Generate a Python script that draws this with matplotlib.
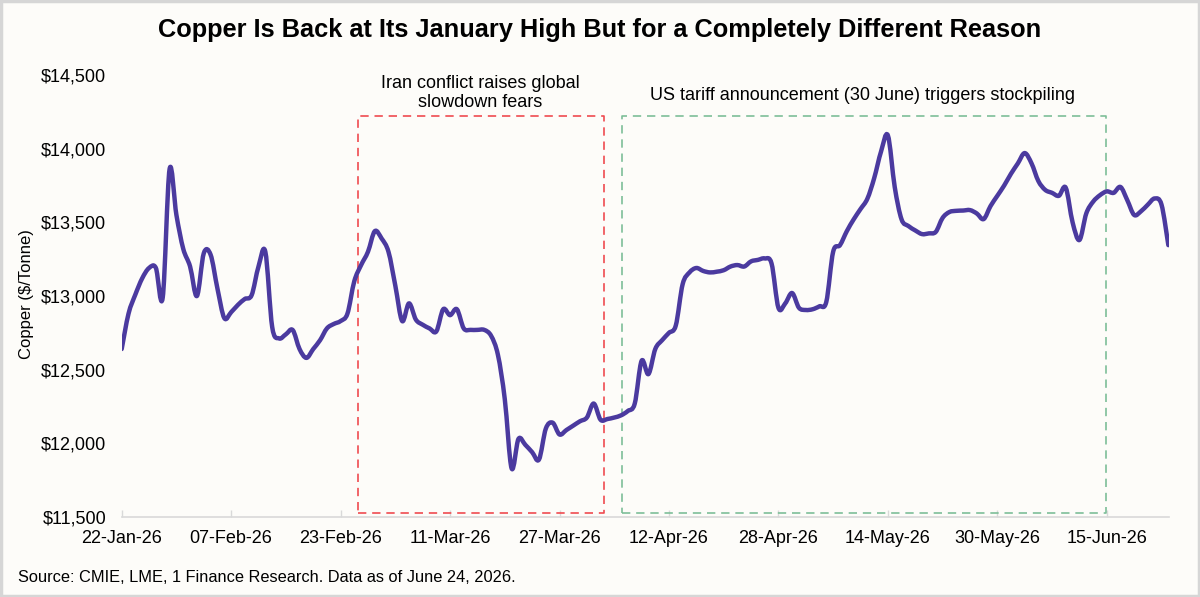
import matplotlib
matplotlib.use("Agg")
import matplotlib.pyplot as plt
import matplotlib.dates as mdates
from matplotlib.patches import Rectangle, PathPatch
from matplotlib.path import Path
import pandas as pd
import numpy as np

plt.rcParams['font.family'] = ['Liberation Sans', 'DejaVu Sans']

# ---------------- data ----------------
start = pd.Timestamp("2026-01-22")
day_offsets = list(range(0, 154))
prices = [
    12640, 12880, 13010, 13120, 13190, 13190, 12990, 13860, 13550, 13320,  # 0-9
    13200, 13000, 13290, 13280, 13050, 12850, 12890, 12940, 12980, 13006,  # 10-19
    13200, 13300, 12790, 12712, 12740, 12769, 12640, 12580, 12640, 12700,  # 20-29
    12780, 12810, 12830, 12880, 13100, 13210, 13300, 13440, 13390, 13300,  # 30-39
    13070, 12830, 12950, 12840, 12805, 12780, 12760, 12910, 12870, 12910,  # 40-49
    12780, 12770, 12770, 12770, 12730, 12600, 12300, 11830, 12030, 11990,  # 50-59
    11940, 11890, 12100, 12140, 12060, 12090, 12120, 12150, 12175, 12270,  # 60-69
    12160, 12165, 12175, 12190, 12220, 12270, 12560, 12470, 12640, 12700,  # 70-79
    12750, 12800, 13080, 13160, 13190, 13170, 13160, 13165, 13175, 13200,  # 80-89
    13210, 13200, 13235, 13245, 13255, 13220, 12920, 12950, 13020, 12920,  # 90-99
    12905, 12910, 12930, 12960, 13300, 13345, 13440, 13520, 13590, 13660,  # 100-109
    13800, 13980, 14090, 13740, 13520, 13475, 13445, 13420, 13425, 13435,  # 110-119
    13530, 13570, 13578, 13580, 13583, 13560, 13522, 13610, 13680, 13750,  # 120-129
    13830, 13900, 13970, 13900, 13780, 13720, 13700, 13680, 13735, 13500,  # 130-139
    13380, 13560, 13640, 13684, 13710, 13700, 13740, 13650, 13550, 13575,  # 140-149
    13620, 13662, 13620, 13345,                                            # 150-153
]
dates = [start + pd.Timedelta(days=d) for d in day_offsets]

tick_labels = ["22-Jan-26", "07-Feb-26", "23-Feb-26", "11-Mar-26", "27-Mar-26",
               "12-Apr-26", "28-Apr-26", "14-May-26", "30-May-26", "15-Jun-26"]
tick_dates = [pd.to_datetime(t, format="%d-%b-%y") for t in tick_labels]
y_ticks = [11500, 12000, 12500, 13000, 13500, 14000, 14500]

# highlighted periods
iran_period = ("2026-02-25 12:00", "2026-04-02 12:00")
tariff_period = ("2026-04-05 05:00", "2026-06-14 20:00")
box_top = 14225
box_bottom = 11528

title = "Copper Is Back at Its January High But for a Completely Different Reason"
iran_text = "Iran conflict raises global\nslowdown fears"
tariff_text = "US tariff announcement (30 June) triggers stockpiling"
source_text = "Source: CMIE, LME, 1 Finance Research. Data as of June 24, 2026."
ylabel = "Copper ($/Tonne)"

# ---------------- figure ----------------
bg = "#FDFCF9"
fig = plt.figure(figsize=(12, 5.97), dpi=100, facecolor=bg)
ax = fig.add_axes([0.1014, 0.134, 0.8728, 0.7404], facecolor=bg)

# smoothed line (Excel-style Bezier through the data points)
xs = mdates.date2num(pd.DatetimeIndex(dates).to_pydatetime())
ys = np.asarray(prices, dtype=float)
pts = np.column_stack([xs, ys])
verts = [pts[0]]
codes = [Path.MOVETO]
n = len(pts)
for i in range(n - 1):
    p0 = pts[i - 1] if i > 0 else pts[i]
    p1 = pts[i]
    p2 = pts[i + 1]
    p3 = pts[i + 2] if i + 2 < n else pts[i + 1]
    c1 = p1 + (p2 - p0) / 6.0
    c2 = p2 - (p3 - p1) / 6.0
    verts += [c1, c2, p2]
    codes += [Path.CURVE4] * 3
line_path = Path(verts, codes)
ax.add_patch(PathPatch(line_path, facecolor="none", edgecolor="#4B3A9F", lw=3.2,
                       joinstyle="round", capstyle="round", zorder=3))
# invisible line registers the data with the axes
ax.plot(dates, prices, color="none", lw=0)

# dashed boxes
def dbox(period, color):
    x0 = mdates.date2num(pd.Timestamp(period[0]))
    x1 = mdates.date2num(pd.Timestamp(period[1]))
    bx = [x0, x1, x1, x0, x0]
    by = [box_bottom, box_bottom, box_top, box_top, box_bottom]
    ax.plot(bx, by, color=color, lw=1.2, ls=(0, (5, 3.5)), zorder=2)

dbox(iran_period, "#EF4B50")
dbox(tariff_period, "#7DBE98")

ax.set_ylim(11500, 14500)
ax.set_xlim(mdates.date2num(start), mdates.date2num(start + pd.Timedelta(days=153.1)))
ax.set_yticks(y_ticks)
ax.set_yticklabels([f"${v:,.0f}" for v in y_ticks])
ax.set_xticks(tick_dates)
ax.set_xticklabels(tick_labels)

for s in ["top", "right", "left"]:
    ax.spines[s].set_visible(False)
ax.spines["bottom"].set_color("#D9D9D9")
ax.spines["bottom"].set_linewidth(1.2)
ax.tick_params(axis="y", length=0, pad=11, labelsize=13, colors="#000000")
ax.tick_params(axis="x", direction="in", length=5, width=1, color="#D9D9D9",
               pad=9, labelsize=13, labelcolor="#000000")

ax.set_ylabel(ylabel, fontsize=12, labelpad=6)
ax.yaxis.set_label_coords(-0.0835, 0.505)

# annotations
fig.text(480 / 1200, 1 - 93 / 597, iran_text, ha="center", va="center",
         fontsize=13, linespacing=1.22)
fig.text(863 / 1200, 1 - 96 / 597, tariff_text, ha="center", va="center",
         fontsize=13)

fig.text(0.5, 1 - 30 / 597, title, ha="center", va="center",
         fontsize=18.3, fontweight="bold")
fig.text(18 / 1200, 1 - 578 / 597, source_text, ha="left", va="center",
         fontsize=11.75)

# outer border
fig.patches.append(Rectangle((0.001, 0.002), 0.998, 0.996, transform=fig.transFigure,
                             fill=False, edgecolor="#D6D6D6", lw=2.5))

fig.savefig("out.png", dpi=100, facecolor=bg)
